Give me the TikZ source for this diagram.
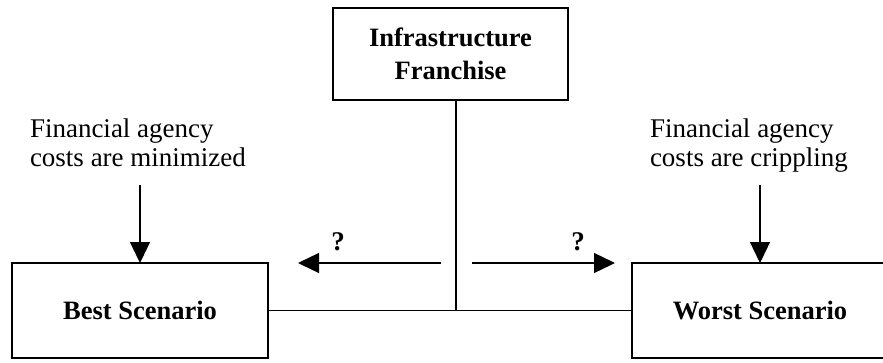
\documentclass[tikz,border=0pt]{standalone}
\usepackage{fontspec}
\setmainfont{Liberation Serif}
\usetikzlibrary{arrows.meta}

\begin{document}
\begin{tikzpicture}[x=1pt,y=-1pt,
  every node/.style={inner sep=0pt, outer sep=0pt},
  box/.style={draw, line width=1.3pt, font=\fontsize{26.5}{33}\selectfont\bfseries, align=center},
  note/.style={font=\fontsize{27}{29}\selectfont, align=left, anchor=north west},
  qmark/.style={font=\fontsize{27}{27}\selectfont\bfseries},
  link/.style={line width=1.3pt},
  arr/.style={line width=1.3pt, -{Triangle[length=21pt,width=20pt]}}
]
\useasboundingbox (0,0) rectangle (883,362);

% boxes
\node[box, minimum width=235pt, minimum height=92pt] (fr) at (450.5,54) {Infrastructure\\Franchise};
\node[box, minimum width=256pt, minimum height=95pt] (best) at (140,310.5) {Best Scenario};
\node[box, minimum width=256pt, minimum height=95pt] (worst) at (760,310.5) {Worst Scenario};

% annotations above the scenarios
\node[note] (lt) at (30,119) {Financial agency\\costs are minimized};
\node[note] (rt) at (650,119) {Financial agency\\costs are crippling};

% question marks over the direction arrows
\node[qmark] (ql) at (338,242) {?};
\node[qmark] (qr) at (578,242) {?};

% connector points
\coordinate (j) at (456,310.5);
\coordinate (la) at (441,263);
\coordinate (lb) at (298,263);
\coordinate (ra) at (472,263);
\coordinate (rb) at (615,263);
\coordinate (ba) at (140,185);
\coordinate (wa) at (760,185);

% trunk and baseline
\draw[link] (fr.south -| j) -- (j);
\draw[link] (best.east) -- (worst.west);

% direction arrows
\draw[arr] (la) -- (lb);
\draw[arr] (ra) -- (rb);

% annotation arrows
\draw[arr] (ba) -- (best.north);
\draw[arr] (wa) -- (worst.north);
\end{tikzpicture}
\end{document}
